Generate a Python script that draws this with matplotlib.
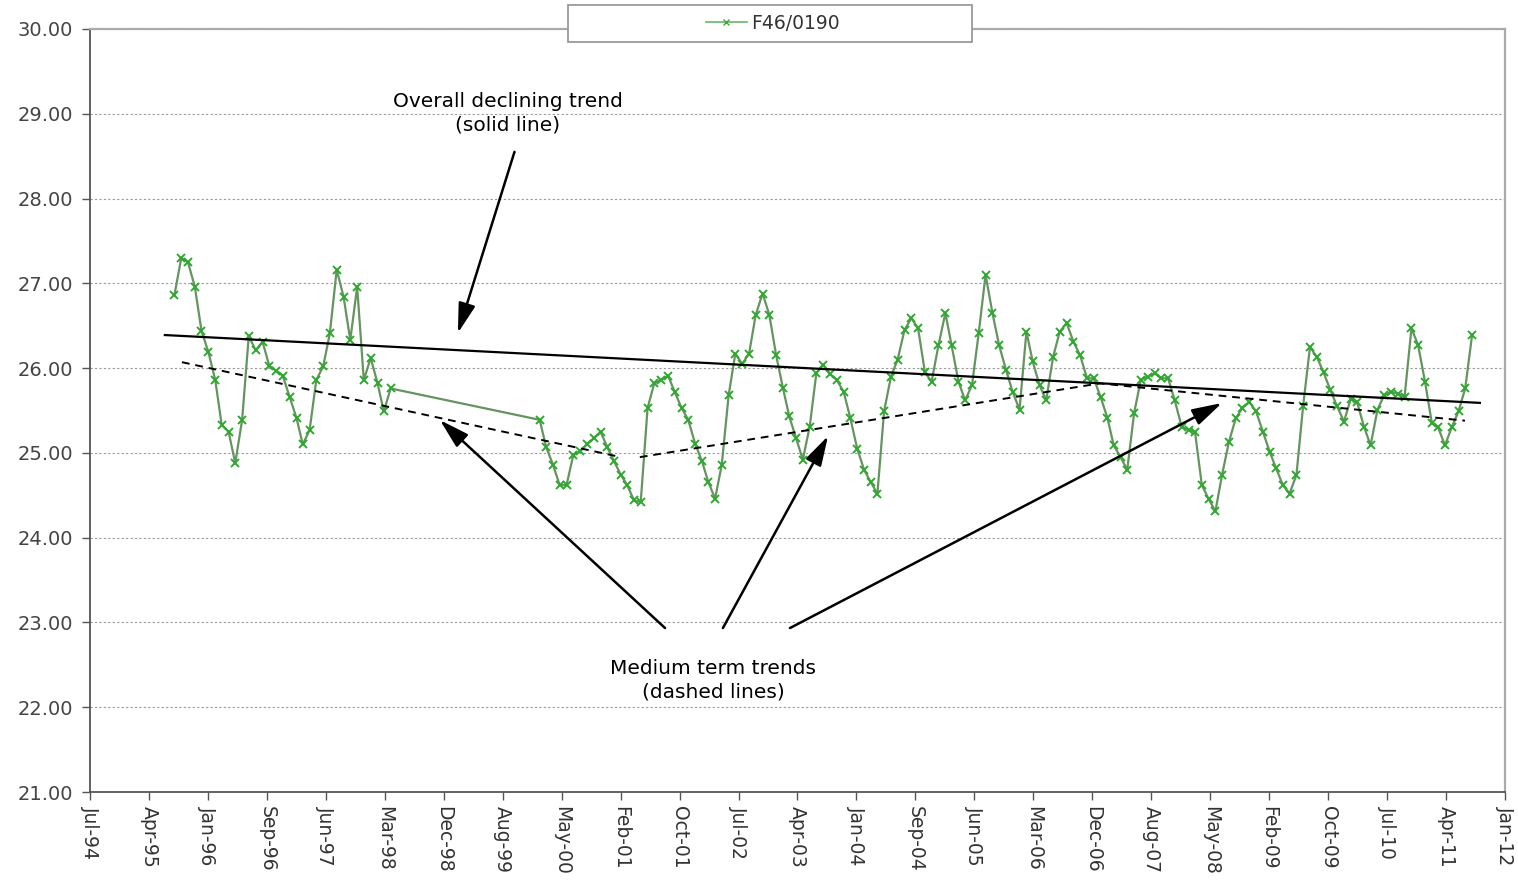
import matplotlib

matplotlib.use("Agg")
import matplotlib.dates as mdates
import matplotlib.pyplot as plt
import numpy as np
import pandas as pd
from matplotlib.lines import Line2D
from matplotlib.patches import Rectangle

SERIES_NAME = "F46/0190"

# Monthly readings Aug-95 .. Apr-98 (no data afterwards until Feb-00).
EARLY_FIRST_MONTH = "1995-08-01"
EARLY_VALUES = [
    26.86, 27.30, 27.25, 26.96, 26.44, 26.19, 25.86, 25.33, 25.25, 24.88,
    25.39, 26.38, 26.21, 26.31, 26.03, 25.97, 25.91, 25.66, 25.41, 25.10,
    25.27, 25.86, 26.02, 26.41, 27.16, 26.84, 26.33, 26.96, 25.86, 26.12,
    25.82, 25.49, 25.76,
]

# Monthly readings Feb-00 .. Aug-11.
LATE_FIRST_MONTH = "2000-02-01"
LATE_VALUES = [
    25.39, 25.07, 24.86, 24.62, 24.62, 24.97, 25.02, 25.10, 25.17, 25.25,
    25.07, 24.90, 24.74, 24.62, 24.44, 24.42, 25.53, 25.82, 25.86, 25.91,
    25.72, 25.53, 25.39, 25.11, 24.90, 24.66, 24.46, 24.86, 25.68, 26.17,
    26.05, 26.17, 26.63, 26.88, 26.63, 26.15, 25.76, 25.43, 25.17, 24.92,
    25.31, 25.94, 26.04, 25.93, 25.86, 25.72, 25.41, 25.05, 24.80, 24.66,
    24.52, 25.49, 25.90, 26.10, 26.45, 26.59, 26.47, 25.95, 25.84, 26.27,
    26.65, 26.27, 25.84, 25.62, 25.80, 26.41, 27.10, 26.65, 26.27, 25.98,
    25.72, 25.51, 26.43, 26.08, 25.80, 25.62, 26.13, 26.43, 26.53, 26.31,
    26.15, 25.88, 25.88, 25.66, 25.41, 25.09, 24.95, 24.80, 25.47, 25.86,
    25.90, 25.94, 25.88, 25.88, 25.62, 25.31, 25.27, 25.25, 24.62, 24.46,
    24.31, 24.74, 25.13, 25.41, 25.53, 25.60, 25.49, 25.25, 25.01, 24.82,
    24.62, 24.52, 24.74, 25.55, 26.25, 26.13, 25.95, 25.74, 25.55, 25.37,
    25.64, 25.60, 25.31, 25.09, 25.51, 25.68, 25.72, 25.70, 25.66, 26.47,
    26.27, 25.84, 25.35, 25.30, 25.09, 25.30, 25.49, 25.76, 26.39,
]

# Hand-drawn trend lines.
TREND_DATES = ["1995-06-26", "2011-09-12"]
TREND_VALUES = [26.39, 25.59]
MEDIUM_A_DATES = ["1995-09-11", "2001-02-08"]
MEDIUM_A_VALUES = [26.07, 24.95]
MEDIUM_B_DATES = ["2001-05-04", "2007-01-05", "2011-07-07"]
MEDIUM_B_VALUES = [24.95, 25.82, 25.38]

# Excel-style date axis: fixed day step between major ticks.
AXIS_START = "1994-07-24"
TICK_STEP_DAYS = 265.5
N_TICKS = 25
Y_MIN, Y_MAX = 21, 30

TEXT_TOP = "Overall declining trend\n(solid line)"
TEXT_BOTTOM = "Medium term trends\n(dashed lines)"


def main() -> None:
    plt.rcParams.update({"font.family": "DejaVu Sans"})

    fig = plt.figure(figsize=(15.18, 8.81), dpi=100)
    ax = fig.add_axes([0.0593, 0.1010, 0.9321, 0.8661])

    early = pd.date_range(EARLY_FIRST_MONTH, periods=len(EARLY_VALUES), freq="MS")
    late = pd.date_range(LATE_FIRST_MONTH, periods=len(LATE_VALUES), freq="MS")
    dates = early.append(late) + pd.Timedelta(days=7)
    values = EARLY_VALUES + LATE_VALUES

    ax.plot(
        dates, values, color="#64945f", lw=1.6, marker="x", ms=6,
        mec="#2fa82f", mew=1.4, zorder=3,
    )

    ax.plot(pd.to_datetime(TREND_DATES), TREND_VALUES, color="black", lw=1.6, zorder=4)
    for d, v in ((MEDIUM_A_DATES, MEDIUM_A_VALUES), (MEDIUM_B_DATES, MEDIUM_B_VALUES)):
        ax.plot(pd.to_datetime(d), v, color="black", lw=1.4, ls=(0, (4, 3)), zorder=4)

    start = mdates.date2num(pd.Timestamp(AXIS_START))
    ticks = start + np.arange(N_TICKS) * TICK_STEP_DAYS
    ax.set_xticks(ticks)
    ax.xaxis.set_major_formatter(mdates.DateFormatter("%b-%y"))
    ax.set_xlim(ticks[0], ticks[-1])
    ax.set_ylim(Y_MIN, Y_MAX)
    ax.set_yticks(np.arange(Y_MIN, Y_MAX + 1))
    ax.yaxis.set_major_formatter(matplotlib.ticker.FormatStrFormatter("%.2f"))

    ax.tick_params(axis="x", direction="out", length=6, width=1, color="#555555",
                   labelrotation=-90, labelsize=13.5, labelcolor="#333333", pad=4)
    ax.tick_params(axis="y", direction="out", length=6, width=1, color="#555555",
                   labelsize=14, labelcolor="#444444", pad=6)

    ax.yaxis.grid(True, linestyle=(0, (2, 2)), color="#9a9a9a", lw=0.8)
    ax.set_axisbelow(True)
    for side in ("left", "bottom"):
        ax.spines[side].set_color("#555555")
        ax.spines[side].set_linewidth(1.3)
    for side in ("top", "right"):
        ax.spines[side].set_color("#aaaaaa")
        ax.spines[side].set_linewidth(1.6)

    arrow = dict(arrowstyle="-|>,head_length=0.7,head_width=0.2", color="black",
                 lw=1.8, mutation_scale=26, shrinkA=0, shrinkB=0)
    ax.text(0.2954, 0.890, TEXT_TOP, transform=ax.transAxes, ha="center",
            va="center", fontsize=14.5, linespacing=1.3)
    ax.annotate("", xy=(0.260, 0.6016), xytext=(0.300, 0.839),
                xycoords="axes fraction", arrowprops=arrow)

    ax.text(0.4403, 0.1468, TEXT_BOTTOM, transform=ax.transAxes, ha="center",
            va="center", fontsize=14.5, linespacing=1.3)
    for tail, tip in (
        ((0.4064, 0.2149), (0.2473, 0.4875)),
        ((0.4473, 0.2149), (0.5216, 0.4666)),
        ((0.4947, 0.2149), (0.8000, 0.5098)),
    ):
        ax.annotate("", xy=tip, xytext=tail, xycoords="axes fraction",
                    arrowprops=arrow)

    # Legend box straddling the top of the plot frame.
    fig.add_artist(Rectangle((0.3742, 0.9523), 0.2661, 0.042,
                             transform=fig.transFigure, facecolor="white",
                             edgecolor="#9a9a9a", lw=1.3, zorder=4))
    handle = Line2D([0], [0], color="#6ab66a", lw=1.2, marker="x", ms=5,
                    mec="#3aa83a", label=SERIES_NAME)
    fig.legend(handles=[handle], loc="center", bbox_to_anchor=(0.509, 0.9733),
               frameon=False, fontsize=13.5, handlelength=2.2, handletextpad=0.2,
               labelcolor="#333333")

    fig.savefig("out.png", dpi=100, facecolor="white")
    plt.close(fig)


if __name__ == "__main__":
    main()
